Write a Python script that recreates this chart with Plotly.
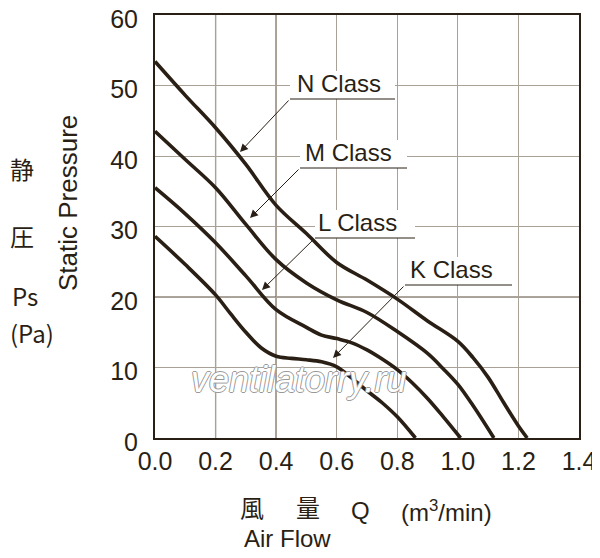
import plotly.graph_objects as go

# ---- data ----
n_x = [0, 0.1, 0.2, 0.3, 0.4, 0.5, 0.6, 0.7, 0.8, 0.9, 1.0, 1.05, 1.1, 1.15, 1.2, 1.229]
n_y = [53.4, 48.6, 44.0, 38.8, 33.0, 29.0, 24.9, 22.4, 19.7, 16.6, 13.7, 11.4, 8.6, 5.1, 1.7, 0]

m_x = [0, 0.1, 0.2, 0.3, 0.4, 0.5, 0.6, 0.7, 0.8, 0.9, 0.95, 1.0, 1.05, 1.119]
m_y = [43.5, 39.5, 35.5, 30.3, 25.3, 22.0, 19.6, 17.8, 15.1, 12.0, 9.9, 7.6, 4.6, 0]

l_x = [0, 0.1, 0.2, 0.3, 0.4, 0.5, 0.55, 0.6, 0.65, 0.7, 0.75, 0.8, 0.85, 0.9, 0.95, 1.009]
l_y = [35.5, 31.8, 27.7, 23.0, 18.2, 15.7, 14.6, 14.1, 13.5, 12.5, 11.2, 9.7, 7.8, 5.6, 3.1, 0]

k_x = [0, 0.1, 0.2, 0.25, 0.3, 0.35, 0.4, 0.45, 0.5, 0.55, 0.6, 0.65, 0.7, 0.75, 0.8, 0.86]
k_y = [28.6, 24.6, 20.3, 17.6, 15.0, 12.8, 11.6, 11.3, 11.1, 10.8, 10.1, 8.5, 6.7, 5.0, 3.0, 0]

x_ticks = [0, 0.2, 0.4, 0.6, 0.8, 1.0, 1.2, 1.4]
y_ticks = [0, 10, 20, 30, 40, 50, 60]

class_names = ["N Class", "M Class", "L Class", "K Class"]

INK = "#2a1f15"
FONT = "Liberation Sans, Arial, sans-serif"
CJK = "Noto Sans CJK JP, Liberation Sans, sans-serif"

# page has an 8px body margin, so the figure is drawn 8px in and made smaller to fit
OFF = 8
W, H = 600 - OFF, 558 - OFF
# plot area, in page pixels
L, R, T, B = 155, 579, 15, 438


def dx(px):
    return (px - L) / (R - L) * 1.4


def dy(py):
    return (B - py) / (B - T) * 60


def px_paper(px):
    return (px - L) / (R - L)


def py_paper(py):
    return (B - py) / (B - T)


fig = go.Figure()

for xs, ys, name in [(n_x, n_y, "N"), (m_x, m_y, "M"), (l_x, l_y, "L"), (k_x, k_y, "K")]:
    fig.add_trace(go.Scatter(
        x=xs, y=ys, mode="lines", name=name,
        line=dict(color=INK, width=3.6, shape="spline", smoothing=1.0),
        hoverinfo="skip", showlegend=False,
    ))

# darker grid lines (as in the scanned original)
for gx in [0.2, 0.4]:
    fig.add_shape(type="line", x0=gx, x1=gx, y0=0, y1=60, xref="x", yref="y",
                  line=dict(color="#4a3c2e", width=1.2), layer="below")
for gy, col in [(10, "#2a1f15"), (20, "#5a4c3e")]:
    fig.add_shape(type="line", x0=0, x1=1.4, y0=gy, y1=gy, xref="x", yref="y",
                  line=dict(color=col, width=1.2), layer="below")

# class labels: (text left, underline y, underline x0, underline x1, arrow head x, arrow head y) in px
label_px = [
    (296, 99, 290, 395, 240, 152),
    (304, 168, 300, 407, 250, 218),
    (317, 238, 315, 415, 262, 290),
    (409, 285, 405, 512, 333, 358),
]
for name, (tx, uy, ux0, ux1, hx, hy) in zip(class_names, label_px):
    fig.add_shape(type="rect", x0=dx(ux0), x1=dx(ux1), y0=dy(uy), y1=dy(uy - 28),
                  xref="x", yref="y", fillcolor="white", line_width=0, layer="above")
    fig.add_annotation(x=dx(tx), y=dy(uy - 1), text=name, showarrow=False, xref="x", yref="y",
                       xanchor="left", yanchor="bottom",
                       font=dict(family=FONT, size=24, color=INK), borderpad=0)
    fig.add_shape(type="line", x0=dx(ux0), x1=dx(ux1), y0=dy(uy), y1=dy(uy), xref="x", yref="y",
                  line=dict(color=INK, width=1))
    fig.add_annotation(x=dx(hx), y=dy(hy), ax=dx(ux0), ay=dy(uy), axref="x", ayref="y",
                       xref="x", yref="y", text="", showarrow=True, arrowhead=2,
                       arrowsize=1.6, arrowwidth=1, arrowcolor=INK)

# watermark
fig.add_annotation(x=dx(298), y=dy(379), xref="x", yref="y", text="<i>ventilatorry.ru</i>",
                   showarrow=False,
                   font=dict(family=FONT, size=36, color="white",
                             shadow="1px 0 0 #999, -1px 0 0 #999, 0 1px 0 #999, 0 -1px 0 #999"))

# left side titles
for txt, x_, y_ in [("静", 22, 168), ("圧", 22, 235), ("Ps", 25, 295), ("(Pa)", 32, 332)]:
    fig.add_annotation(x=px_paper(x_), y=py_paper(y_), xref="paper", yref="paper",
                       xanchor="center", yanchor="middle", text=txt, showarrow=False,
                       font=dict(family=CJK, size=24, color=INK))
fig.add_annotation(x=px_paper(68), y=py_paper(203), xref="paper", yref="paper",
                   text="Static Pressure", showarrow=False, textangle=-90,
                   xanchor="center", yanchor="middle",
                   font=dict(family=FONT, size=26, color=INK))

# bottom titles
for txt, x_, y_ in [("風", 252, 509), ("量", 308, 509), ("Q", 360, 511),
                    ("(m<sup>3</sup>/min)", 446, 511), ("Air Flow", 287, 538)]:
    fig.add_annotation(x=px_paper(x_), y=py_paper(y_), xref="paper", yref="paper",
                       xanchor="center", yanchor="middle", text=txt, showarrow=False,
                       font=dict(family="Liberation Sans, Noto Sans CJK JP, sans-serif",
                                 size=24, color=INK))

fig.update_layout(
    width=W, height=H,
    margin=dict(l=L - OFF, r=W - (R - OFF), t=T - OFF, b=H - (B - OFF), autoexpand=False),
    paper_bgcolor="white", plot_bgcolor="white",
    font=dict(family=FONT, size=24, color=INK),
)
fig.update_xaxes(range=[0, 1.4], tickvals=x_ticks, ticktext=[f"{v:.1f}" for v in x_ticks],
                 showgrid=True, gridcolor="#aaa196", gridwidth=1,
                 showline=True, linecolor=INK, linewidth=2, mirror=True,
                 ticks="", zeroline=False, tickfont=dict(size=25), ticklabelstandoff=0,
                 ticklabeloverflow="allow")
fig.update_yaxes(range=[0, 60], tickvals=y_ticks, showgrid=True, gridcolor="#aaa196",
                 gridwidth=1, showline=True, linecolor=INK, linewidth=2, mirror=True,
                 ticks="", zeroline=False, tickfont=dict(size=25), ticklabelstandoff=10,
                 ticklabelshift=4, ticklabeloverflow="allow")

fig.write_html("out.html")
